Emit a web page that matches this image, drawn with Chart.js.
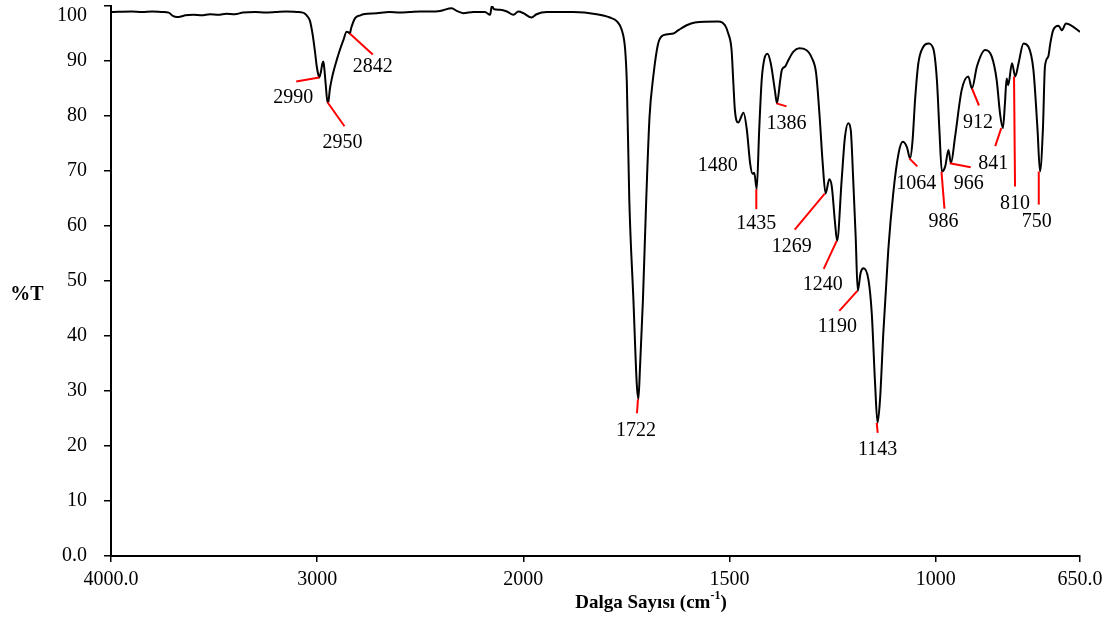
<!DOCTYPE html>
<html>
<head>
<meta charset="utf-8">
<script src="https://cdn.jsdelivr.net/npm/chart.js@4.4.1/dist/chart.umd.min.js"></script>
<style>
  html, body { margin: 0; padding: 0; background: #fff; }
  #wrap { width: 1110px; height: 623px; }
</style>
</head>
<body>
<div id="wrap"><canvas id="c" width="1110" height="623"></canvas></div>
<script>
// ---------- DATA ----------
const WAVENUMBER = [
  4000,3900,3850,3800,3750,3720,3700,3680,3660,3640,
  3600,3560,3520,3480,3440,3400,3360,3300,3250,3200,
  3150,3100,3070,3059,3045,3035,3025,3018,3010,3002,
  2995,2990,2982,2975,2970,2965,2958,2950,2946,2938,
  2929,2918,2905,2890,2873,2857,2848,2842,2835,2816,
  2790,2776,2711,2650,2600,2550,2500,2452,2404,2347,
  2323,2291,2242,2186,2161,2153,2142,2113,2080,2048,
  2024,2000,1980,1968,1943,1879,1822,1790,1773,1761,
  1753,1749,1743,1733,1725,1721,1717,1710,1702,1694,
  1685,1673,1660,1636,1624,1604,1584,1527,1511,1503,
  1495,1491,1487,1479,1466,1458,1450,1444,1440,1434,
  1428,1422,1416,1408,1400,1390,1385,1377,1373,1365,
  1357,1345,1331,1314,1300,1290,1282,1274,1267,1258,
  1252,1244,1239,1228,1220,1212,1206,1200,1194,1189,
  1182,1175,1163,1155,1147,1141,1135,1127,1115,1103,
  1090,1080,1070,1062,1056,1050,1042,1030,1018,1006,
  997,991,985,977,969,963,953,937,921,912,
  900,880,864,852,844,837,832,828,824,815,
  807,799,787,775,763,753,747,740,735,727,
  722,715,702,694,684,670,650
];
const TRANSMITTANCE = [
  98.9,99.0,98.9,99.0,98.9,98.8,98.2,98.0,98.1,98.3,
  98.4,98.3,98.5,98.4,98.6,98.5,98.8,98.9,98.8,98.9,
  99.0,98.9,98.8,98.6,98.0,97.3,95.5,93.8,91.5,89.0,
  87.6,87.0,88.0,89.5,89.9,88.5,85.5,82.5,82.6,85.0,
  86.8,88.5,90.2,92.0,93.8,95.3,95.2,95.0,96.0,97.8,
  98.3,98.5,98.7,98.9,98.8,98.9,99.0,99.0,99.1,99.6,
  99.1,98.7,98.9,98.9,98.4,100.0,99.4,99.3,99.0,98.4,
  99.0,98.7,97.9,98.5,98.9,98.9,98.5,97.9,97.2,95.6,
  92.0,86.0,64.7,46.5,31.4,28.5,34.4,46.5,64.7,79.8,
  87.1,93.2,94.7,95.0,95.6,96.5,97.0,97.2,96.5,95.0,
  92.0,86.5,81.1,78.8,80.6,77.5,71.4,69.5,69.7,66.7,
  77.5,86.5,90.2,91.3,89.6,84.7,82.3,86.5,88.4,89.0,
  90.2,91.7,92.3,92.0,90.5,87.8,80.5,71.4,65.9,68.5,
  67.2,60.5,57.3,68.4,76.2,78.7,77.5,68.4,58.0,48.2,
  51.5,52.3,50.2,44.1,31.4,24.2,28.4,40.5,55.6,65.9,
  73.2,75.3,74.4,72.3,75.6,82.9,89.6,92.6,93.2,92.3,
  86.5,77.5,69.9,70.8,73.8,71.4,76.2,84.7,87.2,85.0,
  89.0,92.0,90.8,86.5,80.5,77.8,82.3,86.8,85.6,89.6,
  87.2,89.6,93.2,92.6,88.4,77.5,69.9,77.5,89.0,90.8,
  93.2,95.6,96.4,95.6,96.8,96.4,95.3
];
const X_TICK_WN = [4000, 3000, 2000, 1500, 1000, 650];
const X_TICK_LABELS = ['4000.0', '3000', '2000', '1500', '1000', '650.0'];
const Y_TICKS = [0, 10, 20, 30, 40, 50, 60, 70, 80, 90, 100];
const Y_TICK_LABELS = ['0.0', '10', '20', '30', '40', '50', '60', '70', '80', '90', '100'];
const PEAK_WN = [2990, 2950, 2842, 1722, 1480, 1435, 1386, 1269, 1240, 1190, 1143, 1064, 986, 966, 912, 841, 810, 750];
const PEAK_T  = [87.0, 82.5, 95.0, 28.5, 78.8, 66.7, 82.3, 65.9, 57.3, 48.2, 24.2, 72.3, 69.9, 71.4, 85.0, 77.8, 87.2, 69.9];
const PEAK_LABELS = PEAK_WN.map(String);
const X_TITLE = 'Dalga Sayısı (cm';
const X_TITLE_SUP = '-1';
const Y_TITLE = '%T';

// ---------- LAYOUT / STYLE (pixel offsets of peak annotations relative to peak point) ----------
// [leaderEndDx, leaderEndDy, textDx, textDy]; null leader => no line
const PEAK_LAYOUT = [
  [-23, 4, -26, 20], [17, 24, 15, 40], [23, 21, 23, 33], [-1, 14, -2, 31],
  [null, null, -20, 43], [0, 20, 0, 35], [10, 3, 10, 20], [-30, 36, -33, 53],
  [-13, 28, -14, 44], [-18, 20, -20, 36], [1, 10, 1, 27], [8, 8, 7, 25],
  [3, 37, 2, 50], [21, 4, 19, 20], [7, 17, 6, 34], [-6, 18, -8, 36],
  [1, 110, 1, 127], [0, 33, -2, 50]
];
const FONT = 'Liberation Serif, "Times New Roman", serif';

// Split wavenumber axis: 4000-2000 drawn at half the scale of 2000-650
function toU(w) { return w > 2000 ? 2000 + (w - 2000) / 2 : w; }

const points = WAVENUMBER.map((w, i) => ({ x: toU(w), y: TRANSMITTANCE[i] }));

const annotPlugin = {
  id: 'annot',
  beforeDraw(chart) {
    const ys = chart.scales.y;
    const items = ys.getLabelItems();
    items.forEach(it => {
      if (it.label === '100' && !it._shifted) { it.options.translation[1] += 10; it._shifted = true; }
    });
  },
  afterDatasetsDraw(chart) {
    const ctx = chart.ctx;
    const xs = chart.scales.x, ys = chart.scales.y;
    ctx.save();
    PEAK_WN.forEach((w, i) => {
      const px = xs.getPixelForValue(toU(w));
      const py = ys.getPixelForValue(PEAK_T[i]);
      const L = PEAK_LAYOUT[i];
      if (L[0] !== null) {
        ctx.beginPath();
        ctx.strokeStyle = '#ff0000';
        ctx.lineWidth = 2;
        ctx.moveTo(px, py);
        ctx.lineTo(px + L[0], py + L[1]);
        ctx.stroke();
      }
      ctx.fillStyle = '#000';
      ctx.font = '20px ' + FONT;
      ctx.textAlign = 'center';
      ctx.textBaseline = 'middle';
      ctx.fillText(PEAK_LABELS[i], px + L[2], py + L[3]);
    });
    // axis titles
    ctx.fillStyle = '#000';
    ctx.textBaseline = 'middle';
    ctx.textAlign = 'center';
    ctx.font = 'bold 20px ' + FONT;
    ctx.fillText(Y_TITLE, 27, 295);
    const mainFont = 'bold 19px ' + FONT, supFont = 'bold 12px ' + FONT;
    ctx.font = mainFont; const w1 = ctx.measureText(X_TITLE).width; const w3 = ctx.measureText(')').width;
    ctx.font = supFont; const w2 = ctx.measureText(X_TITLE_SUP).width;
    const total = w1 + w2 + w3;
    let x0 = 651 - total / 2;
    const yT = 603;
    ctx.textAlign = 'left';
    ctx.font = mainFont; ctx.fillText(X_TITLE, x0, yT);
    ctx.font = supFont; ctx.fillText(X_TITLE_SUP, x0 + w1, yT - 7);
    ctx.font = mainFont; ctx.fillText(')', x0 + w1 + w2, yT);
    ctx.restore();
  }
};

new Chart(document.getElementById('c'), {
  type: 'line',
  data: {
    datasets: [{
      data: points,
      borderColor: '#000',
      borderWidth: 2,
      pointRadius: 0,
      fill: false,
      cubicInterpolationMode: 'monotone'
    }]
  },
  options: {
    responsive: false,
    animation: false,
    events: [],
    layout: { padding: { left: 0, right: 30, top: 6, bottom: 0 } },
    plugins: { legend: { display: false }, tooltip: { enabled: false }, title: { display: false } },
    scales: {
      x: {
        type: 'linear',
        reverse: true,
        min: 650,
        max: 3000,
        afterBuildTicks(s) { s.ticks = X_TICK_WN.map(w => ({ value: toU(w) })); },
        afterFit(s) { s.height = 67; s.paddingLeft = 0; s.paddingRight = 0; },
        ticks: {
          autoSkip: false, maxRotation: 0, minRotation: 0, padding: 6,
          color: '#000', font: { family: FONT, size: 20 },
          callback: (v, i) => X_TICK_LABELS[i]
        },
        grid: { display: true, drawOnChartArea: false, drawTicks: true, tickLength: 6, color: '#000', lineWidth: 1.5 },
        border: { display: true, color: '#000', width: 2 }
      },
      y: {
        type: 'linear',
        min: 0,
        max: 100,
        afterBuildTicks(s) { s.ticks = Y_TICKS.map(v => ({ value: v })); },
        afterFit(s) { s.width = 111; s.paddingTop = 0; s.paddingBottom = 0; },
        ticks: {
          autoSkip: false, padding: 17,
          color: '#000', font: { family: FONT, size: 20 },
          callback: (v, i) => Y_TICK_LABELS[i]
        },
        grid: { display: true, drawOnChartArea: false, drawTicks: true, tickLength: 7, color: '#000', lineWidth: 1.5 },
        border: { display: true, color: '#000', width: 2 }
      }
    }
  },
  plugins: [annotPlugin]
});
</script>
</body>
</html>
